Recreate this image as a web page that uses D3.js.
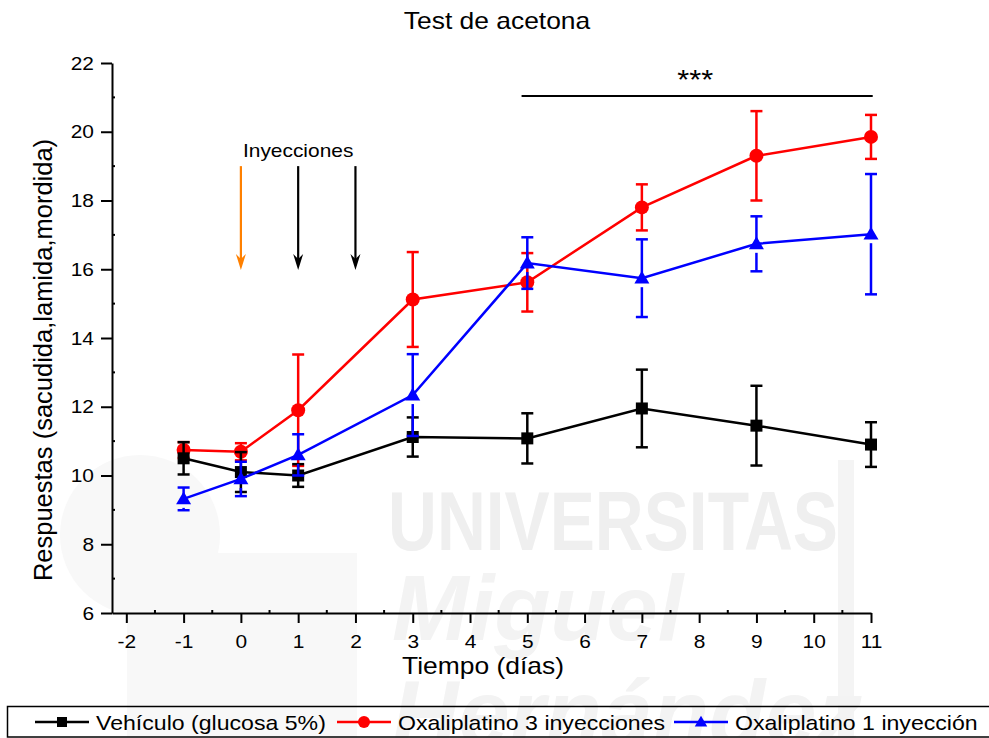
<!DOCTYPE html>
<html>
<head>
<meta charset="utf-8">
<script src="https://cdn.jsdelivr.net/npm/d3@7/dist/d3.min.js"></script>
<style>
  html, body { margin: 0; padding: 0; background: #fff; }
  svg { display: block; font-family: "Liberation Sans", Arial, sans-serif; }
</style>
</head>
<body>
<svg id="chart" width="989" height="738"></svg>
<script>
// Days of measurement
const days = [-1, 0, 1, 3, 5, 7, 9, 11];
const xTicks = [-2, -1, 0, 1, 2, 3, 4, 5, 6, 7, 8, 9, 10, 11];
const yTicks = [6, 8, 10, 12, 14, 16, 18, 20, 22];

// Mean responses and error (SEM) per group
const vehiculoMean = [10.5, 10.1, 10.0, 11.12, 11.08, 11.95, 11.45, 10.9];
const vehiculoErr  = [0.47, 0.58, 0.33, 0.57, 0.73, 1.13, 1.16, 0.65];
const oxa3Mean = [10.74, 10.69, 11.9, 15.12, 15.62, 17.8, 19.3, 19.85];
const oxa3Err  = [0.23, 0.25, 1.62, 1.38, 0.85, 0.67, 1.3, 0.64];
const oxa1Mean = [9.32, 9.9, 10.6, 12.34, 16.18, 15.74, 16.74, 17.02];
const oxa1Err  = [0.33, 0.5, 0.6, 1.19, 0.75, 1.13, 0.8, 1.75];

// Injection days (first one marked in orange)
const injectionDays = [0, 1, 2];
const injectionColors = ["#ff8000", "#000000", "#000000"];
const arrowFrom = 19.0, arrowTo = 15.98;

// Significance bracket over days 5–11
const sigSpan = [4.9, 11.03];
const sigLevel = 21.04;

const series = [
  { name: "Oxaliplatino 3 inyecciones", mean: oxa3Mean, err: oxa3Err, color: "#ff0000", shape: "circle" },
  { name: "Vehículo (glucosa 5%)", mean: vehiculoMean, err: vehiculoErr, color: "#000000", shape: "square" },
  { name: "Oxaliplatino 1 inyección", mean: oxa1Mean, err: oxa1Err, color: "#0000ff", shape: "triangle" }
];
const legendOrder = [1, 0, 2];

const svg = d3.select("#chart");
const STRETCH = 1.1;
function stretch(sel) {
  sel.each(function () {
    const len = this.getComputedTextLength();
    d3.select(this).attr("textLength", len * STRETCH).attr("lengthAdjust", "spacingAndGlyphs");
  });
  return sel;
}

// Faint background emblem
const wm = svg.append("g").attr("class", "watermark");
wm.append("circle").attr("cx", 140).attr("cy", 535).attr("r", 80).attr("fill", "#f8f8f8");
wm.append("rect").attr("x", 127).attr("y", 553).attr("width", 230).attr("height", 185).attr("fill", "#f8f8f8");
wm.append("rect").attr("x", 838).attr("y", 460).attr("width", 16).attr("height", 278).attr("fill", "#f4f4f4");
wm.append("text").attr("x", 388).attr("y", 550).attr("font-size", 84).attr("font-weight", "bold")
  .attr("fill", "#efefef").attr("textLength", 450).attr("lengthAdjust", "spacingAndGlyphs").text("UNIVERSITAS");
wm.append("text").attr("x", 392).attr("y", 640).attr("font-size", 92).attr("font-weight", "bold").attr("font-style", "italic")
  .attr("fill", "#f3f3f3").text("Miguel");
wm.append("text").attr("x", 392).attr("y", 745).attr("font-size", 92).attr("font-weight", "bold").attr("font-style", "italic")
  .attr("fill", "#f3f3f3").text("Hernández");

const x = d3.scaleLinear().domain([-2.25, 11]).range([112, 871]);
const y = d3.scaleLinear().domain([6, 22]).range([613, 63]);

// Axes
const xAxis = d3.axisBottom(x).tickValues(xTicks).tickFormat(d3.format("d")).tickSize(10).tickSizeOuter(0).tickPadding(12);
const gx = svg.append("g").attr("transform", `translate(0,${y(6)})`).call(xAxis);
const yAxis = d3.axisLeft(y).tickValues(yTicks).tickFormat(d3.format("d")).tickSize(11).tickSizeOuter(0).tickPadding(7);
const gy = svg.append("g").attr("transform", `translate(${x(-2.25)},0)`).call(yAxis);
[gx, gy].forEach(g => {
  g.select(".domain").attr("stroke", "#000").attr("stroke-width", 2);
  g.selectAll(".tick line").attr("stroke", "#000").attr("stroke-width", 2);
  g.selectAll(".tick text").attr("fill", "#000").attr("font-size", 19).attr("font-family", "Liberation Sans, Arial, sans-serif");
});
gx.selectAll(".tick text").text(d => d < 0 ? "-" + Math.abs(d) : d);
gx.selectAll(".tick text").call(stretch);
gy.selectAll(".tick text").call(stretch);

// Minor ticks pointing inward
const xMinor = d3.range(-1.5, 11, 1);
svg.append("g").selectAll("line").data(xMinor).join("line")
  .attr("x1", d => x(d)).attr("x2", d => x(d)).attr("y1", y(6)).attr("y2", y(6) - 3)
  .attr("stroke", "#000").attr("stroke-width", 2);
const yMinor = d3.range(7, 22, 2);
svg.append("g").selectAll("line").data(yMinor).join("line")
  .attr("x1", x(-2.25)).attr("x2", x(-2.25) + 3).attr("y1", d => y(d)).attr("y2", d => y(d))
  .attr("stroke", "#000").attr("stroke-width", 2);

// Titles
svg.append("text").attr("x", 497).attr("y", 29).attr("text-anchor", "middle").attr("font-size", 24)
  .text("Test de acetona").call(stretch);
svg.append("text").attr("x", 483).attr("y", 674).attr("text-anchor", "middle").attr("font-size", 24)
  .text("Tiempo (días)").call(stretch);
svg.append("text").attr("transform", `translate(52,360) rotate(-90)`).attr("text-anchor", "middle")
  .attr("font-size", 25.5).text("Respuestas (sacudida,lamida,mordida)");

// Injection arrows
svg.append("text").attr("x", x(1)).attr("y", 157).attr("text-anchor", "middle").attr("font-size", 19)
  .text("Inyecciones").call(stretch);
const arrows = svg.append("g").selectAll("g").data(injectionDays).join("g");
arrows.append("line")
  .attr("x1", d => x(d)).attr("x2", d => x(d))
  .attr("y1", y(arrowFrom)).attr("y2", y(arrowTo) - 10)
  .attr("stroke", (d, i) => injectionColors[i]).attr("stroke-width", 2.2);
arrows.append("path")
  .attr("d", d => `M${x(d) - 5},${y(arrowTo) - 16} L${x(d)},${y(arrowTo) - 11} L${x(d) + 5},${y(arrowTo) - 16} L${x(d)},${y(arrowTo)} Z`)
  .attr("fill", (d, i) => injectionColors[i]);

// Significance bracket
svg.append("line").attr("x1", x(sigSpan[0])).attr("x2", x(sigSpan[1]))
  .attr("y1", y(sigLevel)).attr("y2", y(sigLevel)).attr("stroke", "#000").attr("stroke-width", 2);
svg.append("text").attr("x", (x(sigSpan[0]) + x(sigSpan[1])) / 2 - 2).attr("y", y(sigLevel) - 7)
  .attr("text-anchor", "middle").attr("font-size", 28).text("***").call(stretch);

// Marker drawing
function marker(g, shape, color, cx, cy, s) {
  if (shape === "square") {
    g.append("rect").attr("x", cx - s / 2).attr("y", cy - s / 2).attr("width", s).attr("height", s).attr("fill", color);
  } else if (shape === "circle") {
    g.append("circle").attr("cx", cx).attr("cy", cy).attr("r", s / 2 + 1).attr("fill", color);
  } else {
    const h = s * 1.0, w = s * 1.25;
    g.append("path").attr("d", `M${cx},${cy - h * 0.62} L${cx + w / 2},${cy + h * 0.45} L${cx - w / 2},${cy + h * 0.45} Z`).attr("fill", color);
  }
}

const line = d3.line().x(d => x(d[0])).y(d => y(d[1]));
series.forEach(s => {
  const g = svg.append("g");
  const pts = days.map((d, i) => [d, s.mean[i], s.err[i]]);
  g.append("path").datum(pts).attr("d", line).attr("fill", "none").attr("stroke", s.color).attr("stroke-width", 2.5);
  const eb = g.append("g").attr("stroke", s.color).attr("stroke-width", 2.5);
  pts.forEach(p => {
    const cx = x(p[0]), top = y(p[1] + p[2]), bot = y(p[1] - p[2]), cy = y(p[1]);
    const gap = s.shape === "triangle" ? 9 : 0;
    eb.append("line").attr("x1", cx).attr("x2", cx).attr("y1", top).attr("y2", cy);
    eb.append("line").attr("x1", cx).attr("x2", cx).attr("y1", Math.min(cy + gap, bot)).attr("y2", bot);
    eb.append("line").attr("x1", cx - 6).attr("x2", cx + 6).attr("y1", top).attr("y2", top);
    eb.append("line").attr("x1", cx - 6).attr("x2", cx + 6).attr("y1", bot).attr("y2", bot);
  });
  pts.forEach(p => marker(g, s.shape, s.color, x(p[0]), y(p[1]), 12));
});

// Legend
const lg = svg.append("g");
lg.append("rect").attr("x", 7.5).attr("y", 706.5).attr("width", 990).attr("height", 30.5)
  .attr("fill", "#fff").attr("fill-opacity", 0).attr("stroke", "#000").attr("stroke-width", 1.5);
const legendX = [35, 337, 674];
legendOrder.forEach((si, k) => {
  const s = series[si];
  const x0 = legendX[k];
  const item = lg.append("g");
  item.append("line").attr("x1", x0).attr("x2", x0 + 54).attr("y1", 722).attr("y2", 722)
    .attr("stroke", s.color).attr("stroke-width", 2.5);
  marker(item, s.shape, s.color, x0 + 27, 722, 10);
  item.append("text").attr("x", x0 + 61).attr("y", 730).attr("font-size", 21).text(s.name).call(stretch);
});
</script>
</body>
</html>
